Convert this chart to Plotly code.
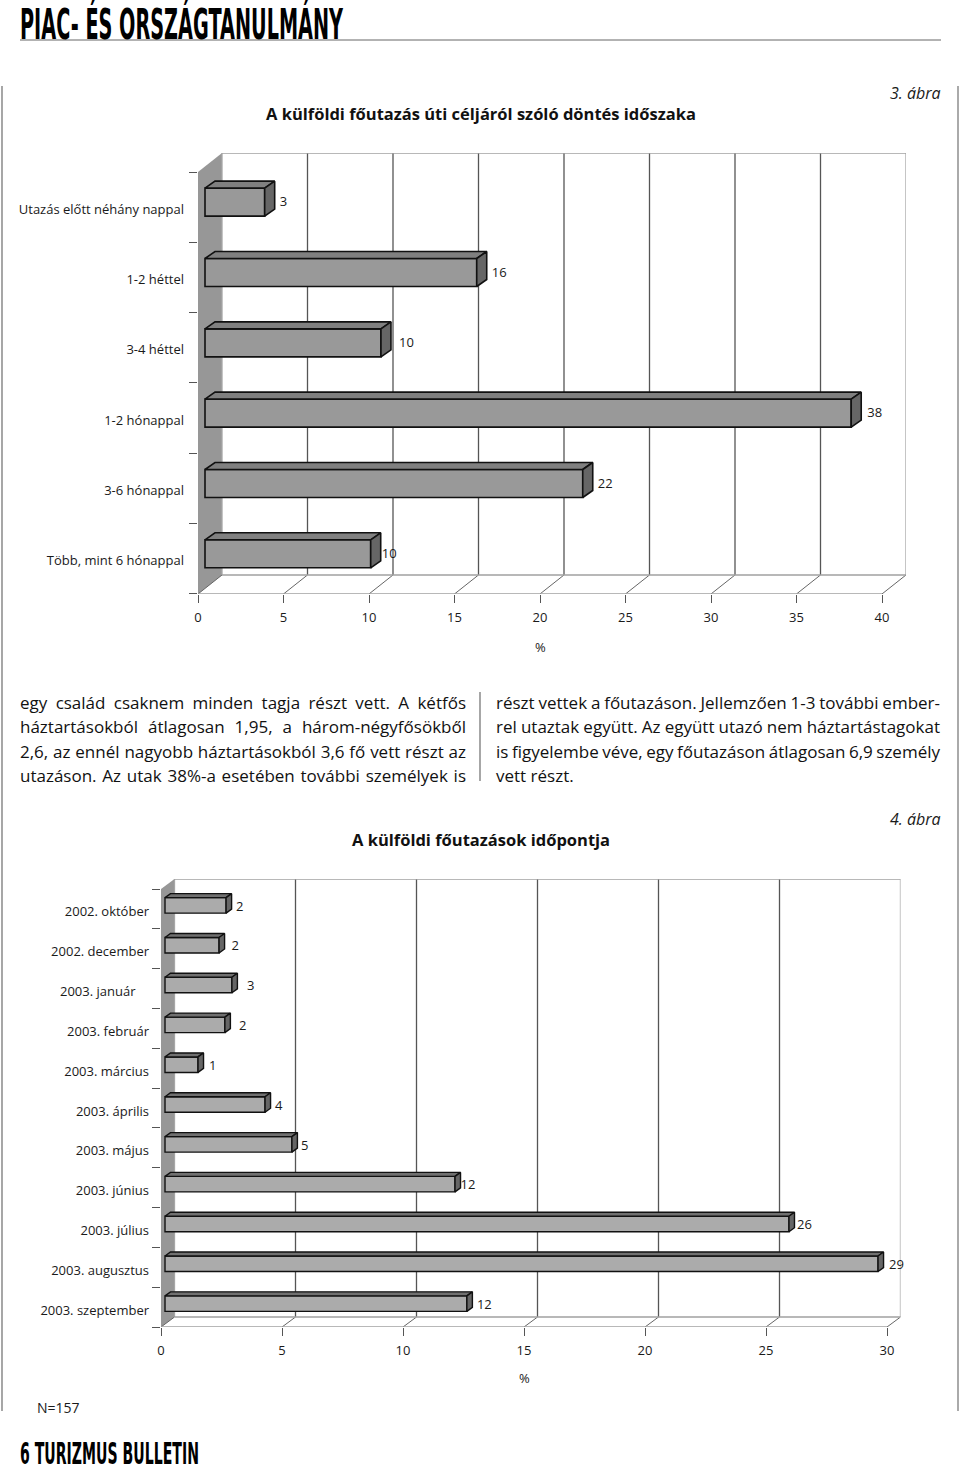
import json
import plotly.graph_objects as go

# ---------- data ----------
cats_1 = ["Utazás előtt néhány nappal", "1-2 héttel", "3-4 héttel", "1-2 hónappal", "3-6 hónappal", "Több, mint 6 hónappal"]
labels_1 = [3, 16, 10, 38, 22, 10]
ends_1 = [3.9, 16.3, 10.7, 38.2, 22.5, 10.1]
ticks_1 = [0, 5, 10, 15, 20, 25, 30, 35, 40]

cats_2 = ["2002. október", "2002. december", "2003. január\u00a0\u00a0\u00a0\u00a0", "2003. február", "2003. március", "2003. április",
          "2003. május", "2003. június", "2003. július", "2003. augusztus", "2003. szeptember"]
labels_2 = [2, 2, 3, 2, 1, 4, 5, 12, 26, 29, 12]
ends_2 = [2.69, 2.40, 2.93, 2.64, 1.53, 4.30, 5.41, 12.15, 25.95, 29.63, 12.64]
ticks_2 = [0, 5, 10, 15, 20, 25, 30]

body_left = ["egy család csaknem minden tagja részt vett. A kétfős",
             "háztartásokból átlagosan 1,95, a három-négyfősökből",
             "2,6, az ennél nagyobb háztartásokból 3,6 fő vett részt az",
             "utazáson. Az utak 38%-a esetében további személyek is"]
body_right = ["részt vettek a főutazáson. Jellemzően 1-3 további ember-",
              "rel utaztak együtt. Az együtt utazó nem háztartástagokat",
              "is figyelembe véve, egy főutazáson átlagosan 6,9 személy",
              "vett részt."]

W, H = 960, 1471
FONT = "Open Sans"
TXT = "#1a1a1a"


def px(x):
    return x / W


def py(y):
    return 1 - y / H


fig = go.Figure()
shapes = []
annos = []


def note(x, y, text, size=14, anchor="left", color=TXT, family=FONT):
    annos.append(dict(x=px(x), y=py(y), xref="paper", yref="paper", text=text, showarrow=False,
                      xanchor=anchor, yanchor="middle", align=anchor,
                      font=dict(family=family, size=size, color=color), borderpad=0, borderwidth=0))


def chart(cats, labels, ends, ticks, axis_n, x0_px, per_unit, band_top, band_h, dx_px, dy_px, right_tick,
          base_px, bar_h_px, bar_shift_px, bd_x, bd_y, front, top, side, bar_lw, nudge, size, standoff, label_shift,
          cat_standoff, cat_shift):
    xa, ya = ("x", "y") if axis_n == 1 else (f"x{axis_n}", f"y{axis_n}")
    n = len(cats)
    dx, dy = dx_px / per_unit, dy_px / band_h
    xmax = right_tick + dx
    ymin = -dy
    base = base_px / per_unit
    S = dict(xref=xa, yref=ya, layer="below")
    shapes.append(dict(type="path", path=f"M0,0 L{dx},{-dy} L{dx},{n-dy} L0,{n} Z", fillcolor="#979797",
                       line=dict(width=0), **S))
    for t in ticks:
        c = "#a6a6a6" if t == right_tick else ("#555555" if t else "#a6a6a6")
        shapes.append(dict(type="line", x0=t + dx, x1=t + dx, y0=-dy, y1=n - dy, line=dict(color=c, width=1.3), **S))
        shapes.append(dict(type="line", x0=t, x1=t + dx, y0=n, y1=n - dy, line=dict(color="#666666", width=1), **S))
    grey = dict(color="#a0a0a0", width=1.5)
    shapes.append(dict(type="line", x0=dx, x1=xmax, y0=-dy, y1=-dy, line=grey, **S))
    shapes.append(dict(type="line", x0=dx, x1=xmax, y0=n - dy, y1=n - dy, line=grey, **S))
    shapes.append(dict(type="line", x0=0, x1=right_tick, y0=n, y1=n, line=grey, **S))

    centres = [i + 0.5 + bar_shift_px / band_h for i in range(n)]
    fig.add_trace(go.Bar(y=centres, x=[e - base for e in ends], base=base, orientation="h", width=bar_h_px / band_h,
                         marker=dict(color=front, line=dict(color="#111111", width=bar_lw)),
                         xaxis=xa, yaxis=ya, showlegend=False, hoverinfo="skip"))
    bx, by = bd_x / per_unit, bd_y / band_h
    half = bar_h_px / band_h / 2
    for face, col in (("top", top), ("side", side)):
        xs, ys = [], []
        for e, c in zip(ends, centres):
            if face == "top":
                xs += [base, base + bx, e + bx, e, base, None]
                ys += [c - half, c - half - by, c - half - by, c - half, c - half, None]
            else:
                xs += [e, e + bx, e + bx, e, e, None]
                ys += [c - half, c - half - by, c + half - by, c + half, c - half, None]
        fig.add_trace(go.Scatter(x=xs, y=ys, mode="lines", fill="toself", fillcolor=col,
                                 line=dict(color="#111111", width=bar_lw), xaxis=xa, yaxis=ya,
                                 showlegend=False, hoverinfo="skip"))
    tx = [e + bx + m / per_unit for e, m in zip(ends, nudge)]
    fig.add_trace(go.Scatter(x=tx, y=[c + label_shift / band_h for c in centres], mode="text", text=[str(v) for v in labels],
                             textposition="middle right", textfont=dict(family=FONT, size=size, color=TXT),
                             cliponaxis=False, xaxis=xa, yaxis=ya, showlegend=False, hoverinfo="skip"))
    ax_suffix = "" if axis_n == 1 else str(axis_n)
    fig.update_layout(**{
        "xaxis" + ax_suffix: dict(domain=[px(x0_px), px(x0_px + xmax * per_unit)], range=[0, xmax], anchor=ya,
                                  side="bottom", showgrid=False, zeroline=False, showline=False, automargin=False,
                                  tickmode="array", tickvals=ticks, ticktext=[str(t) for t in ticks],
                                  ticks="outside", ticklen=8, tickwidth=1, tickcolor="#555555",
                                  ticklabelstandoff=standoff,
                                  tickfont=dict(family=FONT, size=size, color=TXT)),
        "yaxis" + ax_suffix: dict(domain=[py(band_top + n * band_h), py(band_top + ymin * band_h)], range=[n, ymin], anchor=xa,
                                  side="left", showgrid=False, zeroline=False, showline=False, automargin=False,
                                  tickmode="array", tickvals=[i + 0.5 + cat_shift / band_h for i in range(n)], ticktext=cats,
                                  ticks="", ticklabelstandoff=cat_standoff,
                                  tickfont=dict(family=FONT, size=size, color=TXT),
                                  minor=dict(tickmode="array", tickvals=list(range(n + 1)), ticks="outside", ticklen=8,
                                             tickwidth=1, tickcolor="#555555", showgrid=False)),
    })


chart(cats_1, labels_1, ends_1, ticks_1, 1, 198, 17.1, 172, 70.33, 24, 19, 40,
      7, 28, -5, 10, 7, "#999999", "#808080", "#666666", 1.6, [5, 5, 8, 6, 5, 1], 13, 3, 1, 13, 2)
chart(cats_2, labels_2, ends_2, ticks_2, 2, 161, 24.2, 889, 39.82, 13.5, 10, 30,
      4, 15.5, -3.5, 5.5, 4, "#ababab", "#707070", "#666666", 1.4, [4.5, 7, 9.5, 8.5, 5.5, 4.5, 3.5, 0, 2.5, 5.5, 4.5], 13, 3, 2, 11, 3)

# page furniture
head = "PIAC- ÉS ORSZÁGTANULMÁNY"
foot = "6 TURIZMUS BULLETIN"
note(20, 24, f"<b>{head}</b>", 42, family="DejaVu Sans", color="#000000")
note(20, 1452.5, f"<b>{foot}</b>", 31, family="DejaVu Sans", color="#000000")
for x0, x1, y0, y1, col, lw in [(20, 941, 40, 40, "#666666", 1), (2, 2, 86, 1411, "#777777", 1.3),
                                (958, 958, 86, 1411, "#aaaaaa", 2), (480, 480, 692, 781, "#777777", 1.3)]:
    shapes.append(dict(type="line", xref="paper", yref="paper", x0=px(x0), x1=px(x1), y0=py(y0), y1=py(y1),
                       line=dict(color=col, width=lw)))

note(481, 114, "<b>A külföldi főutazás úti céljáról szóló döntés időszaka</b>", 16.5, anchor="center", color="#111111")
note(941, 93, "<i>3. ábra</i>", 16, anchor="right")
note(481, 840, "<b>A külföldi főutazások időpontja</b>", 16.5, anchor="center", color="#111111")
note(941, 819, "<i>4. ábra</i>", 16, anchor="right")
note(37, 1407, "N=157", 14)
annos.append(dict(x=20, y=py(647), xref="x", yref="paper", text="%", showarrow=False, yanchor="middle",
                  font=dict(family=FONT, size=13, color=TXT)))
annos.append(dict(x=15, y=py(1378), xref="x2", yref="paper", text="%", showarrow=False, yanchor="middle",
                  font=dict(family=FONT, size=13, color=TXT)))

for i, (a, b) in enumerate(zip(body_left, body_right)):
    y = 702 + i * 24.5
    note(20, y, a, 17, color="#111111")
    note(496, y, b, 17, color="#111111")

# justified column lines (word spacing) and the two condensed running heads
justify = {t: 446 for t in body_left}
justify.update({t: 444 for t in body_right[:3]})
squeeze = {head: 323, foot: 179}
js = ("document.body.style.margin='0';"
      f"var J={json.dumps(justify, ensure_ascii=False)},Q={json.dumps(squeeze, ensure_ascii=False)};"
      "document.querySelectorAll('.annotation-text').forEach(function(t){var k=t.textContent;"
      "if(J[k]){var w=t.getComputedTextLength();t.style.wordSpacing=((J[k]-w)/(k.split(' ').length-1))+'px';}"
      "if(Q[k]){t.querySelectorAll('tspan').forEach(function(s){s.setAttribute('textLength',Q[k]);"
      "s.setAttribute('lengthAdjust','spacingAndGlyphs');});}"
      "});")

fig.update_layout(width=W, height=H, margin=dict(l=0, r=0, t=0, b=0), autosize=False, paper_bgcolor="white",
                  plot_bgcolor="rgba(0,0,0,0)", barmode="overlay", showlegend=False, shapes=shapes, annotations=annos)
fig.write_html("out.html", post_script=js, config=dict(displayModeBar=False))
